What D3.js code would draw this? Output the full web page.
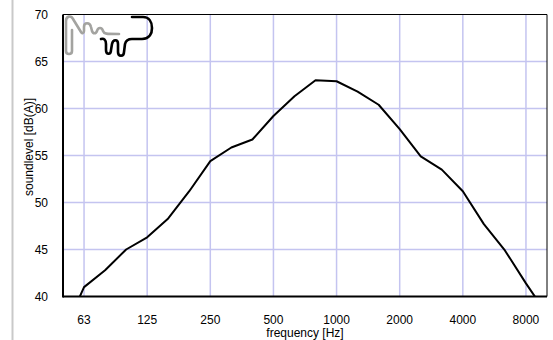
<!DOCTYPE html>
<html>
<head>
<meta charset="utf-8">
<script src="https://cdn.jsdelivr.net/npm/d3@7"></script>
<style>
  html, body { margin: 0; padding: 0; background: #fff; }
  svg { display: block; font-family: Arial, "Liberation Sans", sans-serif; }
</style>
</head>
<body>
<svg id="chart" width="553" height="340"></svg>
<script>
// One-third-octave band centres (Hz), nominal labels
const bands = ["50", "63", "80", "100", "125", "160", "200", "250", "315", "400", "500", "630",
               "800", "1000", "1250", "1600", "2000", "2500", "3150", "4000", "5000", "6300", "8000", "10000"];
// Sound level per band, dB(A)
const levels = [36.0, 41.0, 42.8, 45.0, 46.3, 48.3, 51.2, 54.4, 55.85, 56.7, 59.2, 61.3,
                63.0, 62.9, 61.8, 60.4, 57.8, 54.9, 53.5, 51.2, 47.7, 44.9, 41.4, 38.1];
// Labelled octave ticks
const xTicks = ["63", "125", "250", "500", "1000", "2000", "4000", "8000"];
const yTicks = [40, 45, 50, 55, 60, 65, 70];

const svg = d3.select("#chart");
const plot = { left: 63, right: 547, top: 14.5, bottom: 296.5 };

const x = d3.scalePoint().domain(bands).range([plot.left, plot.right]).padding(0);
const y = d3.scaleLinear().domain([40, 70]).range([plot.bottom, plot.top]);

// page-side rule
svg.append("line")
  .attr("x1", 12.5).attr("x2", 12.5).attr("y1", 0).attr("y2", 340)
  .attr("stroke", "#c9c9c9").attr("stroke-width", 2);

svg.append("clipPath").attr("id", "plotClip")
  .append("rect")
  .attr("x", plot.left).attr("y", plot.top)
  .attr("width", plot.right - plot.left).attr("height", plot.bottom - plot.top);

// grid
const grid = svg.append("g").attr("stroke", "#c4c4f0").attr("stroke-width", 1.5);
grid.selectAll("line.h").data(yTicks.slice(1, -1)).join("line")
  .attr("class", "h")
  .attr("x1", plot.left).attr("x2", plot.right)
  .attr("y1", d => y(d)).attr("y2", d => y(d));
grid.selectAll("line.v").data(xTicks).join("line")
  .attr("class", "v")
  .attr("x1", d => x(d)).attr("x2", d => x(d))
  .attr("y1", plot.top).attr("y2", plot.bottom);

// logo
const logo = svg.append("g").attr("fill", "none").attr("stroke-linecap", "round").attr("stroke-linejoin", "round");
logo.append("path")
  .attr("d", "M72,30 L72,51 C72,55 66,55 66,51 L66,21 C66,16 71,15 73,19 L81,32 C82,34 84,33 84,31 L84,27 C84,22 90,22 91,27 L92,31 C93,34 96,34 97,31 C98,27 102,27 103,31 C104,34 106,34 119,34")
  .attr("stroke", "#a3a3a0").attr("stroke-width", 2.6);
logo.append("path")
  .attr("d", "M101,39 C104,38 106,40 106,44 L106,50 C106,55 111,55 111,50 L112,44 C113,39 118,39 118,44 L118,52 C118,57 124,57 124,52 L125,44 C126,40 128,39 132,39 L142,39 C150,39 152,33 152,28 C152,22 149,17 143,17 L132,17")
  .attr("stroke", "#000").attr("stroke-width", 2.6);

// data line
const line = d3.line()
  .x((d, i) => x(bands[i]))
  .y(d => y(d));
svg.append("path")
  .datum(levels)
  .attr("clip-path", "url(#plotClip)")
  .attr("fill", "none")
  .attr("stroke", "#000")
  .attr("stroke-width", 2)
  .attr("stroke-linejoin", "round")
  .attr("d", line);

// frame
svg.append("line").attr("x1", plot.left).attr("x2", plot.right).attr("y1", plot.top).attr("y2", plot.top)
  .attr("stroke", "#000").attr("stroke-width", 1);
svg.append("line").attr("x1", plot.right).attr("x2", plot.right).attr("y1", plot.top).attr("y2", plot.bottom)
  .attr("stroke", "#000").attr("stroke-width", 1);
svg.append("line").attr("x1", plot.left).attr("x2", plot.left).attr("y1", plot.top).attr("y2", plot.bottom + 1)
  .attr("stroke", "#000").attr("stroke-width", 2);
svg.append("line").attr("x1", plot.left).attr("x2", plot.right).attr("y1", plot.bottom).attr("y2", plot.bottom)
  .attr("stroke", "#000").attr("stroke-width", 2);

// axes labels
svg.append("g").selectAll("text").data(yTicks).join("text")
  .attr("x", 48).attr("y", d => y(d)).attr("dy", "0.35em")
  .attr("text-anchor", "end").attr("font-size", 12).attr("fill", "#000")
  .text(d => d);

svg.append("g").selectAll("text").data(xTicks).join("text")
  .attr("x", d => x(d)).attr("y", 323.5)
  .attr("text-anchor", "middle").attr("font-size", 12).attr("fill", "#000")
  .text(d => d);

svg.append("text")
  .attr("x", 305).attr("y", 337)
  .attr("text-anchor", "middle").attr("font-size", 12).attr("fill", "#000")
  .text("frequency [Hz]");

svg.append("text")
  .attr("transform", "translate(33,147) rotate(-90)")
  .attr("text-anchor", "middle").attr("font-size", 12).attr("fill", "#000")
  .text("soundlevel [dB(A)]");
</script>
</body>
</html>
